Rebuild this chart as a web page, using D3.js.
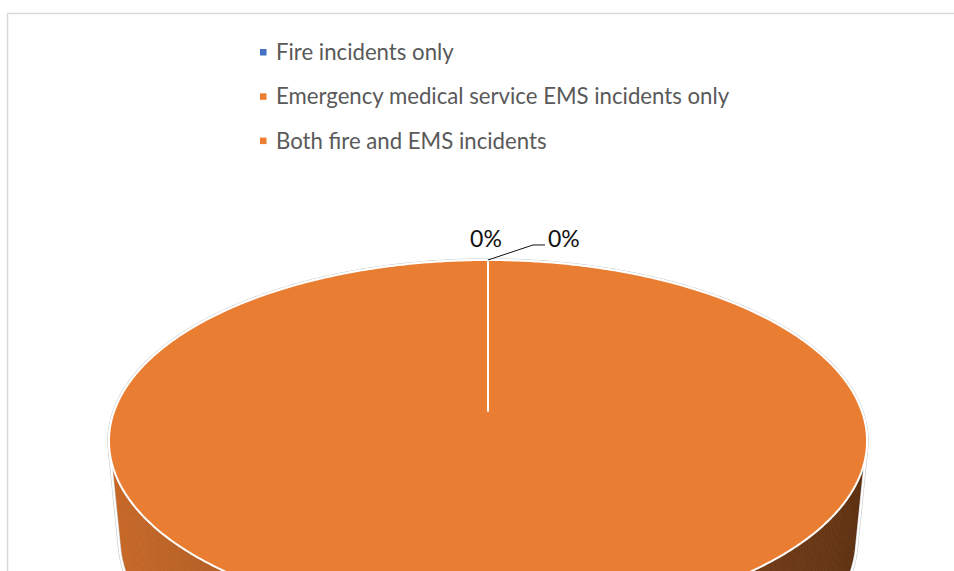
<!DOCTYPE html>
<html>
<head>
<meta charset="utf-8">
<script src="https://cdn.jsdelivr.net/npm/d3@7"></script>
<style>
  html, body { margin: 0; padding: 0; background: #fff; }
  svg { display: block; font-family: Lato, "Open Sans", sans-serif; }
</style>
</head>
<body>
<svg id="chart" width="954" height="571"></svg>
<script>
// Incident categories and their share of the total (%)
const categories = [
  "Fire incidents only",
  "Emergency medical service EMS incidents only",
  "Both fire and EMS incidents"
];
const shares = [0, 0, 100];
const sliceColors = ["#4472C4", "#ED7D31", "#ED7D31"];

const W = 954, H = 571;
const svg = d3.select("#chart");

// chart-area frame
svg.append("rect")
  .attr("x", 7.5).attr("y", 13.5)
  .attr("width", 1000).attr("height", 700)
  .attr("fill", "none").attr("stroke", "#D9D9D9").attr("stroke-width", 1.5);

// ---- legend ----
const legend = svg.append("g").attr("transform", "translate(260,60)");
const rowGap = 44.3;
categories.forEach((name, i) => {
  const g = legend.append("g").attr("transform", `translate(0,${i * rowGap})`);
  g.append("rect").attr("x", 0).attr("y", -11).attr("width", 6.5).attr("height", 6.5)
    .attr("fill", sliceColors[i]);
  g.append("text").attr("x", 16).attr("y", 0)
    .attr("font-size", 22.2).attr("fill", "#595959").text(name);
});

// ---- 3D pie (tilted disc seen in perspective) ----
const view = { cx: 488, cy: 411, K: 373.8, sinT: 0.471, r: 0.1658, depth: 0.3 };
const cosT = Math.sqrt(1 - view.sinT * view.sinT);

// project a rim point at pie angle a (0 = far side, clockwise) on the top (0) or bottom (1) face
function rim(a, level) {
  const c = level * view.depth * view.r * view.sinT / cosT;
  const s = 1 / (1 + c + view.r * Math.cos(a));
  return [
    view.cx + view.K * Math.sin(a) * s,
    view.cy + view.K * (level * view.depth * cosT - view.sinT * Math.cos(a)) * s
  ];
}
const centerTop = [view.cx, view.cy];

const pie = d3.pie().sort(null).value(d => d);
const arcs = pie(shares);

const step = Math.PI / 360;
function samples(a0, a1) {
  const n = Math.max(1, Math.ceil((a1 - a0) / step));
  return d3.range(n + 1).map(i => a0 + (a1 - a0) * i / n);
}

// side wall, shaded by the facing direction of each strip
function shade(color, a) {
  const m = 0.62 + 0.23 * (-Math.sin(a));
  const c = d3.rgb(color);
  return d3.rgb(c.r * m, c.g * m, c.b * m).formatHex();
}
const quads = [];
arcs.forEach((d, i) => {
  if (d.endAngle - d.startAngle <= 0) return;
  const as = samples(d.startAngle, d.endAngle);
  for (let k = 0; k < as.length - 1; k++) {
    const a0 = as[k], a1 = as[k + 1], mid = (a0 + a1) / 2;
    quads.push({ mid, color: shade(sliceColors[i], mid),
      pts: [rim(a0, 0), rim(a1, 0), rim(a1, 1), rim(a0, 1)] });
  }
});
quads.sort((p, q) => Math.cos(q.mid) - Math.cos(p.mid));

const line = d3.line();
const side = svg.append("g");
side.selectAll("path").data(quads).join("path")
  .attr("d", q => line(q.pts) + "Z")
  .attr("fill", q => q.color)
  .attr("stroke", q => q.color).attr("stroke-width", 0.8);

// outer silhouette edge
const allPts = [];
samples(0, 2 * Math.PI).forEach(a => { allPts.push(rim(a, 0)); allPts.push(rim(a, 1)); });
const hull = d3.polygonHull(allPts);
svg.append("path").attr("d", line(hull) + "Z")
  .attr("fill", "none").attr("stroke", "#C8C8C8").attr("stroke-width", 3.2)
  .attr("stroke-linejoin", "round");
svg.append("path").attr("d", line(hull) + "Z")
  .attr("fill", "none").attr("stroke", "#fff").attr("stroke-width", 2)
  .attr("stroke-linejoin", "round");

// top face slices
const topTint = c => { const q = d3.rgb(c); return d3.rgb(q.r * 0.985, q.g * 1.0, q.b * 1.02).formatHex(); };
svg.append("g").selectAll("path").data(arcs).join("path")
  .attr("d", d => line([centerTop, ...samples(d.startAngle, d.endAngle).map(a => rim(a, 0))]) + "Z")
  .attr("fill", (d, i) => topTint(sliceColors[i]))
  .attr("stroke", "#fff").attr("stroke-width", 2).attr("stroke-linejoin", "round");

// ---- data labels ----
const total = d3.sum(shares);
const pct = d3.format(".0%");
const labels = svg.append("g").attr("font-size", 23).attr("fill", "#111");
let stacked = 0;
arcs.forEach((d, i) => {
  const mid = (d.startAngle + d.endAngle) / 2;
  const [ax, ay] = rim(mid, 0);
  const txt = pct(d.value / total);
  if (d.endAngle - d.startAngle < 1e-6) {
    if (stacked === 0) {
      labels.append("text").attr("x", ax - 2).attr("y", ay - 13)
        .attr("text-anchor", "middle").text(txt);
    } else {
      labels.append("path")
        .attr("d", line([[ax, ay], [ax + 45, ay - 15], [ax + 57, ay - 15]]))
        .attr("fill", "none").attr("stroke", "#111").attr("stroke-width", 1);
      labels.append("text").attr("x", ax + 60).attr("y", ay - 13).text(txt);
    }
    stacked++;
  } else {
    const [bx, by] = rim(mid, 1);
    const ly = by + 28;
    if (ly < H) {
      labels.append("text").attr("x", bx).attr("y", ly)
        .attr("text-anchor", "middle").text(txt);
    }
  }
});
</script>
</body>
</html>
